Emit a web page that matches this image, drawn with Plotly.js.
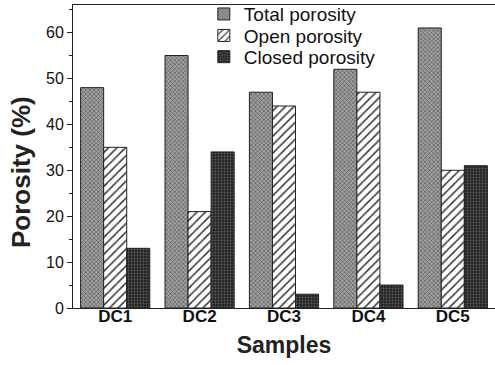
<!DOCTYPE html>
<html>
<head>
<meta charset="utf-8">
<script src="https://cdn.plot.ly/plotly-3.0.1.min.js"></script>
<style>html,body{margin:0;padding:0;background:#fff;}#chart{width:495px;height:365px;}</style>
</head>
<body>
<div id="chart"></div>
<script>
const samples = ["DC1", "DC2", "DC3", "DC4", "DC5"];
const totalPorosity = [48, 55, 47, 52, 61];
const openPorosity = [35, 21, 44, 47, 30];
const closedPorosity = [13, 34, 3, 5, 31];
const yTicks = [0, 10, 20, 30, 40, 50, 60];

const font = "Liberation Sans, Arial, sans-serif";
const line = {color: "#222", width: 1};
const legFont = {family: font, size: 19, color: "#111"};

const traces = [
  {type: "bar", name: "Total porosity", x: samples, y: totalPorosity, legend: "legend",
   marker: {color: "#555", line: line,
     pattern: {shape: "x", bgcolor: "#a0a0a0", fgcolor: "#505050", size: 3, solidity: 0.35, fillmode: "replace"}}},
  {type: "bar", name: "Open porosity", x: samples, y: openPorosity, legend: "legend2",
   marker: {color: "#333", line: line,
     pattern: {shape: "/", bgcolor: "#ffffff", fgcolor: "#333", size: 6, solidity: 0.25, fillmode: "replace"}}},
  {type: "bar", name: "Closed porosity", x: samples, y: closedPorosity, legend: "legend3",
   marker: {color: "#555", line: line,
     pattern: {shape: ".", bgcolor: "#262626", fgcolor: "#5a5a5a", size: 3, solidity: 0.3, fillmode: "replace"}}}
];

function leg(y) {
  return {x: 0.31, xanchor: "left", y: y, yanchor: "middle", bgcolor: "rgba(0,0,0,0)", font: legFont};
}

const layout = {
  width: 495, height: 365,
  margin: {l: 73, r: 0, t: 5, b: 57, autoexpand: false},
  paper_bgcolor: "#fff", plot_bgcolor: "#fff",
  barmode: "group", bargap: 0.18, bargroupgap: 0,
  showlegend: true,
  legend: leg(0.970),
  legend2: leg(0.899),
  legend3: leg(0.829),
  xaxis: {
    range: [-0.5, 4.5], showline: true, linecolor: "#222", linewidth: 1, mirror: true,
    ticks: "", showgrid: false, zeroline: false, ticklabelstandoff: -7,
    tickfont: {family: font, size: 17, color: "#111", weight: "bold"},
    title: {text: "Samples", font: {family: font, size: 23, color: "#222", weight: "bold"}, standoff: 11}
  },
  yaxis: {
    range: [0, 66], tickvals: yTicks, ticktext: yTicks.map(String),
    showline: true, linecolor: "#222", linewidth: 1, mirror: false,
    ticks: "outside", ticklen: 5, tickcolor: "#222", showgrid: false, zeroline: false,
    minor: {dtick: 5, ticks: "outside", ticklen: 3, tickcolor: "#222", showgrid: false},
    tickfont: {family: font, size: 16, color: "#111"}
  },
  annotations: [
    {text: "Porosity (%)", xref: "paper", yref: "paper", x: (21 - 73) / 422, y: (308 - 172) / 303,
     xanchor: "center", yanchor: "middle", textangle: -90, showarrow: false,
     font: {family: font, size: 26, color: "#222", weight: "bold"}}
  ]
};

Plotly.newPlot("chart", traces, layout, {displayModeBar: false, staticPlot: true});
</script>
</body>
</html>
